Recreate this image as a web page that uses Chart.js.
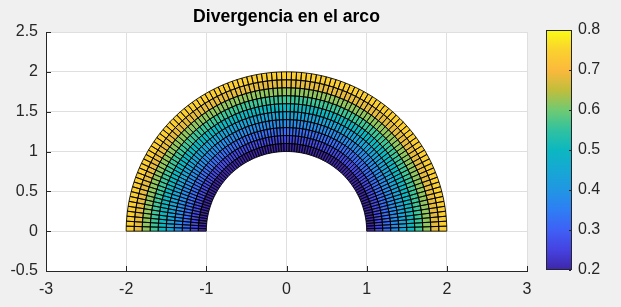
<!DOCTYPE html>
<html lang="es">
<head>
<meta charset="UTF-8">
<title>Divergencia en el arco</title>
<script src="https://cdn.jsdelivr.net/npm/chart.js"></script>
<style>
  html, body { margin: 0; padding: 0; background: #f0f0f0; }
</style>
</head>
<body>
<canvas id="arcChart" width="621" height="307"></canvas>
<script>
// malla del arco: radios de los nodos y valor de cada anillo (de dentro hacia fuera)
const radii = [1.0, 1.1, 1.2, 1.3, 1.4, 1.5, 1.6, 1.7, 1.8, 1.9, 2.0];
const ringValues = [0.20, 0.26, 0.32, 0.38, 0.44, 0.50, 0.56, 0.62, 0.68, 0.74];
const angleCells = 100; // divisiones en theta, de 0 a pi
const xTicks = [-3, -2, -1, 0, 1, 2, 3];
const yTicks = [-0.5, 0, 0.5, 1, 1.5, 2, 2.5];
const cbarTicks = [0.2, 0.3, 0.4, 0.5, 0.6, 0.7, 0.8];
const cbarLimits = [0.2, 0.8];

const FONT = '"Liberation Sans", Arial, sans-serif';
const TXT = '#262626';

// parula aproximado (posicion 0..1, rgb)
const parulaStops = [
  [0.000, [62, 38, 168]],
  [0.083, [69, 66, 224]],
  [0.167, [62, 96, 246]],
  [0.250, [46, 126, 244]],
  [0.333, [33, 150, 227]],
  [0.417, [22, 168, 212]],
  [0.500, [12, 183, 192]],
  [0.583, [48, 194, 160]],
  [0.667, [112, 202, 114]],
  [0.750, [194, 189, 60]],
  [0.833, [251, 185, 60]],
  [0.917, [250, 210, 46]],
  [1.000, [249, 251, 21]]
];

function parula(v) {
  let t = (v - cbarLimits[0]) / (cbarLimits[1] - cbarLimits[0]);
  t = Math.max(0, Math.min(1, t));
  for (let k = 1; k < parulaStops.length; k++) {
    const [t1, c1] = parulaStops[k];
    const [t0, c0] = parulaStops[k - 1];
    if (t <= t1) {
      const f = (t - t0) / (t1 - t0);
      const c = c0.map((a, i) => Math.round(a + (c1[i] - a) * f));
      return `rgb(${c[0]},${c[1]},${c[2]})`;
    }
  }
  const c = parulaStops[parulaStops.length - 1][1];
  return `rgb(${c[0]},${c[1]},${c[2]})`;
}

const backgroundPlugin = {
  id: 'figBackground',
  beforeDraw(chart) {
    const { ctx, chartArea: a } = chart;
    ctx.save();
    ctx.fillStyle = '#f0f0f0';
    ctx.fillRect(0, 0, chart.width, chart.height);
    ctx.fillStyle = '#ffffff';
    ctx.fillRect(a.left, a.top, a.width, a.height);
    ctx.restore();
  }
};

// celdas tipo pcolor, dibujadas con las escalas de Chart.js
const meshPlugin = {
  id: 'arcMesh',
  beforeDatasetsDraw(chart) {
    const { ctx, chartArea: a, scales: { x, y } } = chart;
    const cells = [];
    for (let i = 0; i < ringValues.length; i++) {
      for (let j = 0; j < angleCells; j++) {
        const t0 = Math.PI * j / angleCells;
        const t1 = Math.PI * (j + 1) / angleCells;
        const pts = [[radii[i], t0], [radii[i + 1], t0], [radii[i + 1], t1], [radii[i], t1]]
          .map(([r, t]) => [x.getPixelForValue(r * Math.cos(t)), y.getPixelForValue(r * Math.sin(t))]);
        cells.push({ pts, color: parula(ringValues[i]) });
      }
    }
    ctx.save();
    ctx.beginPath();
    ctx.rect(a.left, a.top, a.width, a.height);
    ctx.clip();
    const path = (pts) => {
      ctx.beginPath();
      pts.forEach(([px, py], k) => k ? ctx.lineTo(px, py) : ctx.moveTo(px, py));
      ctx.closePath();
    };
    cells.forEach(c => { path(c.pts); ctx.fillStyle = c.color; ctx.fill(); });
    ctx.lineWidth = 0.85;
    ctx.strokeStyle = '#000000';
    cells.forEach(c => { path(c.pts); ctx.stroke(); });
    ctx.restore();
  }
};

const decorPlugin = {
  id: 'matlabDecor',
  afterDraw(chart) {
    const { ctx, chartArea: a, scales: { x, y } } = chart;
    ctx.save();
    // marcas interiores de los ejes
    ctx.strokeStyle = TXT;
    ctx.lineWidth = 1;
    ctx.beginPath();
    xTicks.forEach(v => {
      const px = Math.round(x.getPixelForValue(v)) + 0.5;
      ctx.moveTo(px, a.bottom); ctx.lineTo(px, a.bottom - 5);
    });
    yTicks.forEach(v => {
      const py = Math.round(y.getPixelForValue(v)) + 0.5;
      ctx.moveTo(a.left, py); ctx.lineTo(a.left + 5, py);
    });
    ctx.stroke();

    // titulo
    ctx.fillStyle = '#000000';
    ctx.font = `bold 17.6px ${FONT}`;
    ctx.textAlign = 'center';
    ctx.textBaseline = 'middle';
    ctx.fillText('Divergencia en el arco', (a.left + a.right) / 2, 17);

    // barra de color
    const cx0 = 546, cx1 = 572;
    const cTop = a.top - 2, cBot = a.bottom - 1;
    const cbY = v => cBot - (v - cbarLimits[0]) / (cbarLimits[1] - cbarLimits[0]) * (cBot - cTop);
    const grad = ctx.createLinearGradient(0, cBot, 0, cTop);
    parulaStops.forEach(([t, c]) => grad.addColorStop(t, `rgb(${c[0]},${c[1]},${c[2]})`));
    ctx.fillStyle = grad;
    ctx.fillRect(cx0, cTop, cx1 - cx0, cBot - cTop);
    ctx.strokeStyle = TXT;
    ctx.strokeRect(cx0 + 0.5, cTop + 0.5, cx1 - cx0 - 1, cBot - cTop - 1);
    ctx.beginPath();
    cbarTicks.forEach(v => {
      const py = Math.round(cbY(v)) + 0.5;
      ctx.moveTo(cx1 - 1, py); ctx.lineTo(cx1 - 3, py);
    });
    ctx.stroke();
    ctx.fillStyle = TXT;
    ctx.font = `16px ${FONT}`;
    ctx.textAlign = 'left';
    cbarTicks.forEach(v => ctx.fillText(String(v), 578, cbY(v)));
    ctx.restore();
  }
};

new Chart(document.getElementById('arcChart'), {
  type: 'scatter',
  data: { datasets: [{ label: 'Divergencia', data: [], pointRadius: 0 }] },
  options: {
    responsive: false,
    animation: false,
    devicePixelRatio: 1,
    layout: { padding: { top: 32, right: 94, left: 0, bottom: 0 } },
    plugins: { legend: { display: false }, tooltip: { enabled: false }, title: { display: false } },
    scales: {
      x: {
        type: 'linear', min: -3, max: 3,
        afterBuildTicks: s => { s.ticks = xTicks.map(v => ({ value: v })); },
        afterFit: s => { s.height = 36; },
        grid: { color: '#dfdfdf', drawTicks: false },
        border: { color: TXT, width: 1 },
        ticks: { padding: 9, color: TXT, font: { size: 16, family: FONT }, maxRotation: 0, autoSkip: false,
                 callback: v => String(v) }
      },
      y: {
        type: 'linear', min: -0.5, max: 2.5,
        afterBuildTicks: s => { s.ticks = yTicks.map(v => ({ value: v })); },
        afterFit: s => { s.width = 46; },
        grid: { color: '#dfdfdf', drawTicks: false },
        border: { color: TXT, width: 1 },
        ticks: { padding: 8, color: TXT, font: { size: 16, family: FONT }, autoSkip: false,
                 callback: v => String(v) }
      }
    }
  },
  plugins: [backgroundPlugin, meshPlugin, decorPlugin]
});
</script>
</body>
</html>
